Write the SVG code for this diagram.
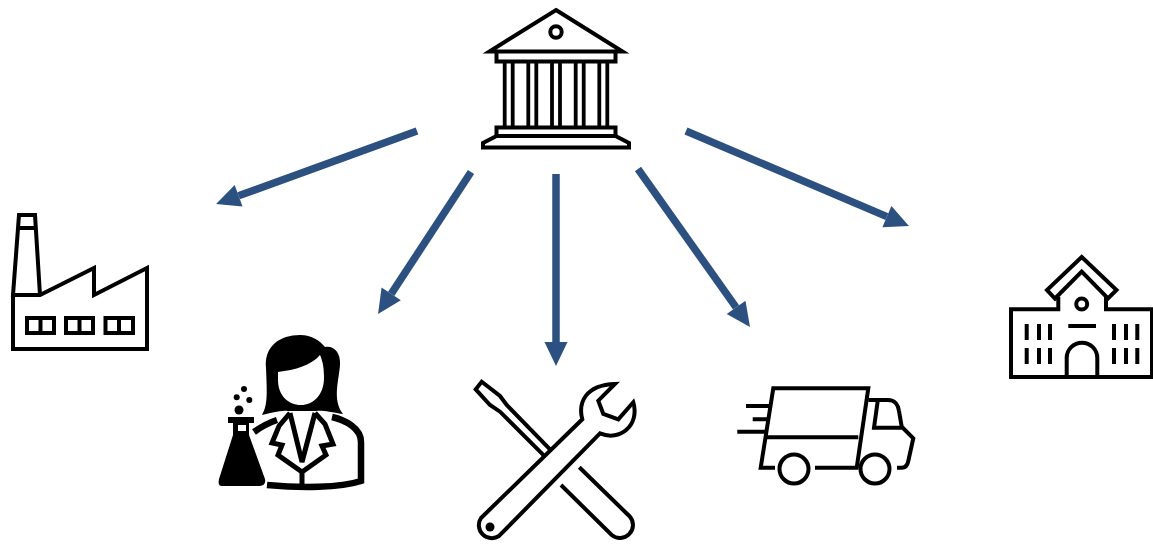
<svg xmlns="http://www.w3.org/2000/svg" width="1153" height="545" viewBox="0 0 1153 545">
<style>
.o{fill:none;stroke:#000;stroke-width:4;stroke-linejoin:miter}
.t{fill:none;stroke:#000;stroke-width:3.6}
.k{fill:#000}
.a{stroke:#2C5080;stroke-width:7.500;fill:none;marker-end:url(#h)}
</style>
<defs>
<marker id="h" markerUnits="userSpaceOnUse" markerWidth="25" markerHeight="24" refX="1" refY="12" orient="auto"><path d="M1 0.5L25 12L1 23.5Z" fill="#2C5080"/></marker>
</defs>
<rect width="1153" height="545" fill="#fff"/>
<g id="connectors">
<line class="a" x1="417" y1="131" x2="238.6" y2="195.8"/>
<line class="a" x1="471" y1="172" x2="391.2" y2="293.9"/>
<line class="a" x1="556" y1="174" x2="556" y2="342"/>
<line class="a" x1="638" y1="169" x2="736.1" y2="307.4"/>
<line class="a" x1="686" y1="131" x2="886.9" y2="216.6"/>
</g>
<g id="bank">
<path class="o" d="M556,10L622.500,51.500H489.500Z"/>
<circle class="o" cx="556" cy="32" r="5.700"/>
<path class="o" d="M496.500,52V61.500H615.500V52"/>
<path class="t" style="stroke-width:3.8" d="M504.700,62V127M512.700,62V127M528.300,62V127M536.300,62V127M552,62V127M560,62V127M575.700,62V127M583.700,62V127M599.300,62V127M607.300,62V127"/>
<path class="o" d="M496.500,127.500H615.500V136H496.500Z"/>
<path class="o" d="M496.500,136L483,143V147.500H629V143L615.500,136"/>
</g>
<g id="factory">
<path class="o" d="M13,295V349H147V268L94,295V268L40,295H13L19,215H35L40,295"/>
<path class="o" d="M18,228H36"/>
<path class="o" d="M27,318H54V333H27ZM40.500,318V333M66,318H93V333H66ZM79.500,318V333M105.500,318H133V333H105.500ZM119,318V333"/>
</g>
<g id="scientist">
<path class="k" d="M262,415C268,405 267,392 266,368C264,346 280,335 300,335C312,335 320,341 325,347C333,345 341,352 340,365C339,380 332,400 343,414C330,412 322,410 316,411L288,411C280,410 272,413 262,415Z"/>
<path fill="#fff" d="M278,372C295,370 312,365 320,355C323,362 324,368 324,378C324,395 313,405 301,405C288,405 278,395 278,380Z"/>
<path fill="none" stroke="#000" stroke-width="6.500" d="M332,417C345,420 361,428 361,442V481C340,488 300,488 267,485M254,432C261,427 268,423 277,420"/>
<path fill="none" stroke="#000" stroke-width="5" d="M290,413L302,462L315,413M290,413L279,426L272,443L282,445L278,455L302,472L326,455L322,446L333,444L325,424L315,413M302,470V486"/>
<path class="k" d="M228,417H254V423H249V435L265,479C266,484 263,486 260,486H222C219,486 218,484 219,479L233,435V423H228Z"/>
<rect x="238" y="425" width="8" height="6" fill="#fff"/>
<circle class="k" cx="239" cy="410" r="4.500"/>
<circle class="k" cx="236.700" cy="397.300" r="3"/>
<circle class="k" cx="249.300" cy="400" r="3"/>
<circle class="k" cx="244" cy="389" r="3"/>
</g>
<g id="tools">
<path class="o" d="M550,449.300L506.700,405L500,396L481.700,381.700L475.700,389.300L490,405L500,411.700L545,456.700"/>
<path class="o" d="M579.300,467.300L630,516.700A13,13 0 0 1 611.700,535L561,485"/>
<path class="o" d="M582.300,419.300C578,403 585,385 615,384L598.300,400.700L603.300,414L618.300,419.300L633.300,402.300C640,425 620,442 600,433.300L499,536A13,13 0 0 1 481,518Z"/>
<circle class="k" cx="490" cy="527" r="4.500"/>
</g>
<g id="truck">
<path class="o" d="M815,467.700H856.700L868.300,388.300H773.300L760.700,467.700H775M766.700,437.300H858.300"/>
<path class="o" d="M746,406H770M752.700,419.300H767M737.300,431.700H766"/>
<circle class="o" cx="794" cy="469" r="14.500"/>
<circle class="o" cx="875" cy="469" r="14.500"/>
<path class="o" d="M868.300,400H888C895,400 898.300,405 899,411L901.700,426.700L913.300,438.300L908.300,461C907.500,465 905,467.700 902,467.700H897"/>
<path class="o" d="M877.700,401L874,427.700H901.700"/>
</g>
<g id="school">
<path class="o" d="M1058.300,297V309.300H1011V377H1152V309.300H1106V297"/>
<path class="o" d="M1081.700,257L1116.500,290L1108,298.500L1081.700,271.500L1055,298.500L1047,290Z"/>
<circle class="o" cx="1081.700" cy="304" r="5.500"/>
<path class="o" d="M1068.300,326H1096"/>
<path class="o" d="M1026.700,324V340M1039,324V340M1050,324V340M1026.700,348V364M1039,348V364M1050,348V364M1114,324V340M1126,324V340M1137.300,324V340M1114,348V364M1126,348V364M1137.300,348V364"/>
<path class="o" d="M1066.700,377V358A15.300,15.300 0 0 1 1097.300,358V377"/>
</g>
</svg>
